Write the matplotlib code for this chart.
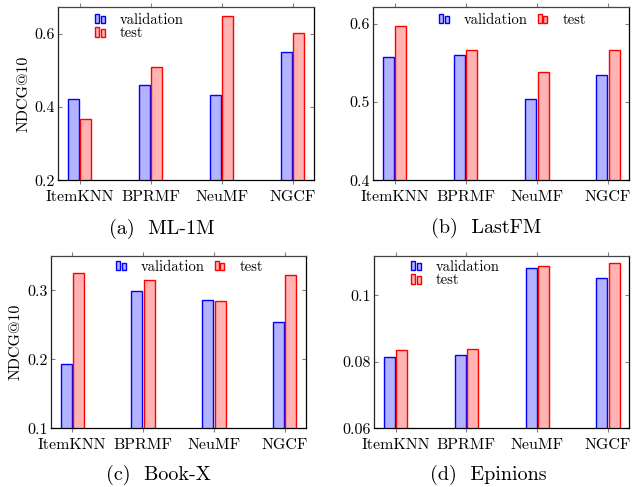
import numpy as np
import matplotlib
matplotlib.use('Agg')
import matplotlib.pyplot as plt
from matplotlib.patches import Rectangle
from matplotlib.legend_handler import HandlerBase

# data
models = ['ItemKNN', 'BPRMF', 'NeuMF', 'NGCF']

ml1m_val = [0.423, 0.460, 0.432, 0.549]
ml1m_test = [0.366, 0.508, 0.648, 0.603]

lastfm_val = [0.558, 0.560, 0.504, 0.535]
lastfm_test = [0.597, 0.566, 0.538, 0.567]

bookx_val = [0.193, 0.299, 0.286, 0.254]
bookx_test = [0.326, 0.315, 0.285, 0.323]

epinions_val = [0.0813, 0.0820, 0.1083, 0.1051]
epinions_test = [0.0836, 0.0838, 0.1088, 0.1096]

captions = ['(a)  ML-1M', '(b)  LastFM', '(c)  Book-X', '(d)  Epinions']
yticks = [[0.2, 0.4, 0.6], [0.4, 0.5, 0.6], [0.1, 0.2, 0.3], [0.06, 0.08, 0.1]]
ylims = [(0.2, 0.672), (0.4, 0.621), (0.1, 0.35), (0.06, 0.1118)]

SERIF = ['cmr10', 'DejaVu Serif']
plt.rcParams['font.family'] = SERIF
plt.rcParams['axes.unicode_minus'] = False

BLUE_FILL = '#b3b3ff'
RED_FILL = '#ffb3b3'


class BarHandler(HandlerBase):
    # pgfplots-style ybar legend icon: two little bars
    def create_artists(self, legend, orig, xd, yd, width, height, fontsize, trans):
        fc = orig.get_facecolor()
        ec = orig.get_edgecolor()
        w = width * 0.28
        h = height * 1.0
        r1 = Rectangle((-xd, -yd), w, h, facecolor=fc, edgecolor=ec,
                       lw=1.0, transform=trans)
        r2 = Rectangle((-xd + w * 1.35, -yd), w, h * 0.8, facecolor=fc, edgecolor=ec,
                       lw=1.0, transform=trans)
        return [r1, r2]


def draw(ax, val, test, ticks, ylim, ylabel, two_rows, leg_anchor):
    x = np.arange(len(models))
    w = 0.155
    vb = ax.bar(x - 0.087, val, w, color=BLUE_FILL, edgecolor='blue',
                linewidth=1.0, label='validation')
    tb = ax.bar(x + 0.087, test, w, color=RED_FILL, edgecolor='red',
                linewidth=1.0, label='test')
    ax.set_xlim(-0.3, 3.3)
    ax.set_ylim(*ylim)
    ax.set_yticks(ticks)
    ax.set_yticklabels(['%g' % t for t in ticks])
    ax.set_xticks(x)
    ax.set_xticklabels(models)
    ax.tick_params(axis='x', direction='out', length=3, color='gray',
                   top=True, labelsize=11.5, pad=4)
    ax.tick_params(axis='y', direction='in', length=3, color='gray',
                   right=True, labelsize=11.5, pad=2.5)
    for s in ax.spines.values():
        s.set_linewidth(0.9)
    ax.spines['top'].set_color('#444444')
    ax.spines['left'].set_color('#222222')
    if ylabel:
        ax.set_ylabel('NDCG@10', fontsize=11.5, labelpad=3)
    ax.legend([vb[0], tb[0]], ['validation', 'test'], ncol=1 if two_rows else 2,
              frameon=False, loc='upper left', bbox_to_anchor=leg_anchor,
              handler_map={type(vb[0]): BarHandler()},
              handlelength=1.0, handleheight=0.65, handletextpad=0.7,
              columnspacing=0.7, labelspacing=0.0, borderaxespad=0,
              borderpad=0, prop={'family': SERIF, 'size': 10.5})


fig = plt.figure(figsize=(6.36, 4.87), dpi=100)
W, H = 636.0, 487.0
boxes = [(58.3, 7.3, 314, 180.3), (373.3, 7.3, 629.3, 180.3),
         (51, 256, 306, 428.3), (374.3, 256, 629.3, 428.3)]
series = [(ml1m_val, ml1m_test), (lastfm_val, lastfm_test),
          (bookx_val, bookx_test), (epinions_val, epinions_test)]
leg_pos = [(95, 13), (439, 13), (116, 260), (411, 260)]
cap_pos = [(162, 229), (486, 228), (158, 475), (488, 475)]

for i in range(4):
    l, t, r, b = boxes[i]
    ax = fig.add_axes([l / W, 1 - b / H, (r - l) / W, (b - t) / H])
    lx, ly = leg_pos[i]
    anchor = ((lx - l) / (r - l), 1 - (ly - t) / (b - t))
    draw(ax, series[i][0], series[i][1], yticks[i], ylims[i],
         i in (0, 2), i in (0, 3), anchor)
    cx, cy = cap_pos[i]
    fig.text(cx / W, 1 - cy / H, captions[i], ha='center', va='center',
             fontsize=14.5, family=SERIF)

fig.savefig('out.png', dpi=100)
